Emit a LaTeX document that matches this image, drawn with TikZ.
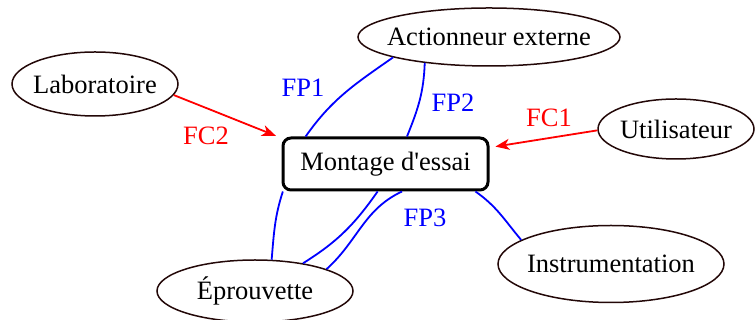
\documentclass[tikz,border=0pt]{standalone}
\usepackage{fontspec}
\setmainfont{Liberation Serif}
\usetikzlibrary{arrows.meta,shapes.geometric}
\definecolor{edgebrown}{RGB}{35,8,8}
\newcommand{\zw}[1]{\makebox[0pt]{#1}}
\begin{document}
\begin{tikzpicture}[x=0.5pt,y=0.5pt,
  font=\fontsize{13.25}{15}\selectfont,
  ell/.style={ellipse, draw=edgebrown, line width=0.75pt, inner sep=0pt},
  mainbox/.style={rectangle, draw=black, line width=1.5pt, rounded corners=4pt, inner sep=0pt, minimum width=102.5pt, minimum height=26pt},
  fp/.style={draw=blue, line width=0.9pt},
  fc/.style={draw=red, line width=0.9pt, -{Stealth[length=7pt,width=5.5pt,inset=2pt]}, shorten >=3pt},
  fplab/.style={text=blue},
  fclab/.style={text=red}]
\useasboundingbox (0,0) rectangle (755,320);
\node[ell, minimum width=83pt, minimum height=32pt] (lab) at (95,236) {\zw{Laboratoire}};
\node[ell, minimum width=131pt, minimum height=29pt] (act) at (489,283) {\zw{Actionneur externe}};
\node[ell, minimum width=78pt, minimum height=30pt] (uti) at (676,191) {\zw{Utilisateur}};
\node[ell, minimum width=113pt, minimum height=38.5pt] (ins) at (611,56) {\zw{Instrumentation}};
\node[ell, minimum width=98pt, minimum height=31pt] (epr) at (255,29) {\zw{Éprouvette}};
\node[mainbox] (m) at (385.5,156) {Montage d\textquotesingle essai};

\draw[fp] (act.192) to[out=215,in=55] (m.161);
\draw[fp] (act.202) to[out=268,in=68] (m.52);
\draw[fp] (m.195) to[out=252,in=85] (epr.62);
\draw[fp] (m.254) to[out=235,in=32] (epr.30);
\draw[fp] (m.301) to[out=205,in=42] (epr.17);
\draw[fp] (m.343) to[out=325,in=130] (ins.165);

\draw[fc] (lab.-8) -- (m.166);
\draw[fc] (uti.181) -- (m.9);

\node[fplab] (fp1) at (303,232) {FP1};
\node[fplab] (fp2) at (453,217) {FP2};
\node[fplab] (fp3) at (425,102) {FP3};
\node[fclab] (fc1) at (549,202) {FC1};
\node[fclab] (fc2) at (206,184) {FC2};
\end{tikzpicture}
\end{document}
